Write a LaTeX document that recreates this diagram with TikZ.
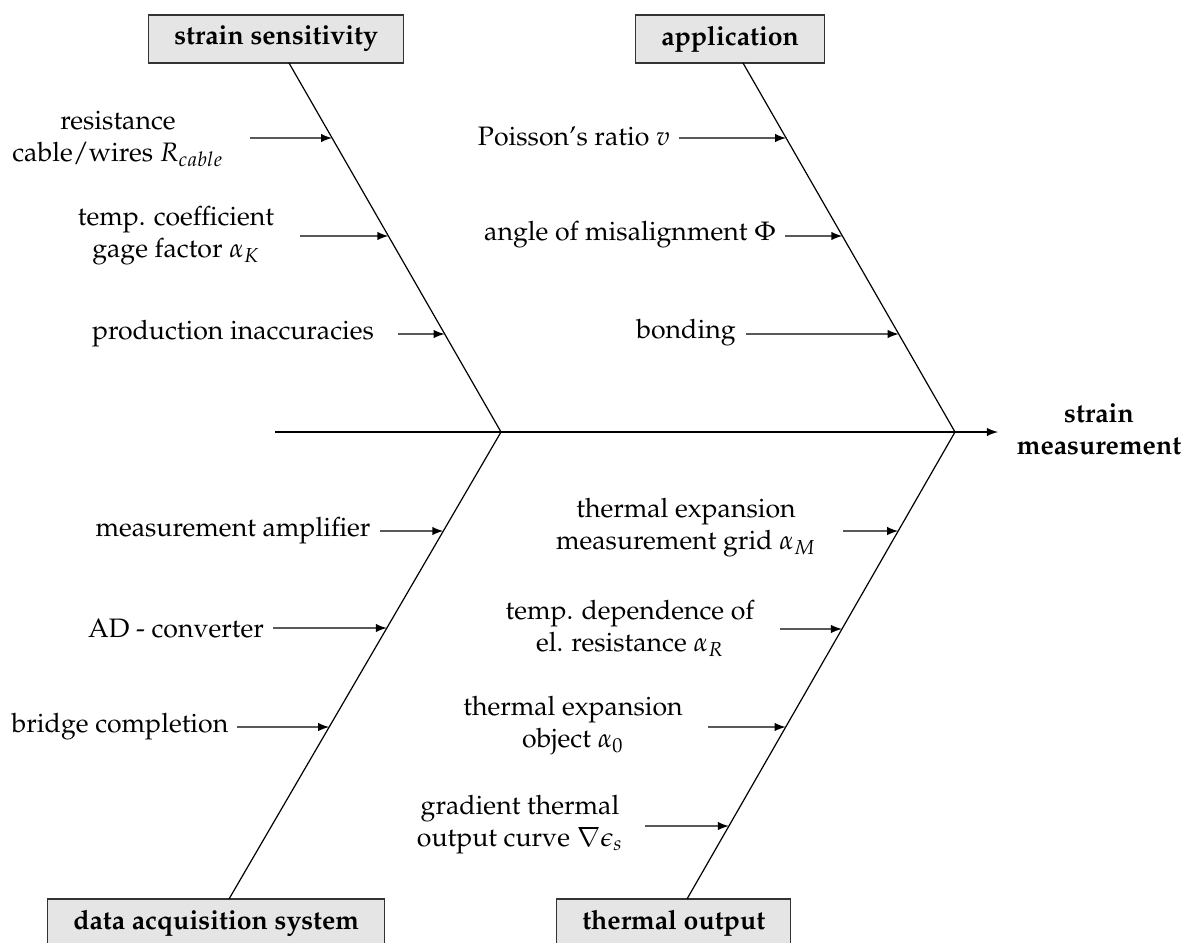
\documentclass[tikz,border=0pt]{standalone}
\usepackage[T1]{fontenc}
\usepackage{mathpazo}
\usetikzlibrary{calc}
\begin{document}
\begin{tikzpicture}[x=0.375pt,y=-0.375pt,
  cat/.style={draw=black!80,fill=gray!20,line width=0.5pt,font=\bfseries,
    minimum height=18pt,inner xsep=9.6pt,anchor=west},
  lbl/.style={align=center,inner sep=0pt},
  bone/.style={line width=0.45pt},
  cause/.style={line width=0.45pt,-latex}]
\useasboundingbox (0,0) rectangle (1196,942);
% category boxes
\node[cat] (ss)  at (148,39)  {strain sensitivity};
\node[cat] (app) at (635,39)  {application};
\node[cat] (daq) at (47,923)  {data acquisition system};
\node[cat] (to)  at (556,923) {thermal output};
% effect
\node[lbl,font=\bfseries] (eff) at (1099,429) {strain\\measurement};
% spine
\coordinate (S)  at (275,432);
\coordinate (J1) at (501,432);
\coordinate (J2) at (955,432);
\coordinate (E)  at (998,432);
\coordinate (t1) at (289,63);
\coordinate (t2) at (743,63);
\coordinate (b1) at (229,899);
\coordinate (b2) at (687,899);
\draw[bone] (S) -- (J1) -- (J2);
\draw[cause] (J2) -- (E);
\draw[bone] (t1) -- (J1) -- (b1);
\draw[bone] (t2) -- (J2) -- (b2);
% labels
\node[lbl] (l1) at (118,139) {resistance\\cable/wires $R_{cable}$};
\node[lbl] (l2) at (176,236) {temp. coefficient\\gage factor $\alpha_K$};
\node[lbl] (l3) at (233,334) {production inaccuracies};
\node[lbl] (l4) at (574,137) {Poisson's ratio $v$};
\node[lbl] (l5) at (630,235) {angle of misalignment $\Phi$};
\node[lbl] (l6) at (686,333) {bonding};
\node[lbl] (l7) at (233,531) {measurement amplifier};
\node[lbl] (l8) at (176,629) {AD - converter};
\node[lbl] (l9) at (120,727) {bridge completion};
\node[lbl] (l10) at (686,528) {thermal expansion\\measurement grid $\alpha_M$};
\node[lbl] (l11) at (630,628) {temp. dependence of\\el. resistance $\alpha_R$};
\node[lbl] (l12) at (573,726) {thermal expansion\\object $\alpha_0$};
\node[lbl] (l13) at (520,825) {gradient thermal\\output curve $\nabla\epsilon_s$};
% arrow starts
\coordinate (a1) at (250,138);
\coordinate (a2) at (300,236);
\coordinate (a3) at (398,334);
\coordinate (a4) at (679,138);
\coordinate (a5) at (785,236);
\coordinate (a6) at (746,334);
\coordinate (a7) at (380,531);
\coordinate (a8) at (273,628);
\coordinate (a9) at (237,727);
\coordinate (a10) at (843,531);
\coordinate (a11) at (780,629);
\coordinate (a12) at (708,727);
\coordinate (a13) at (645,826);
% arrow tips on bones
\coordinate (p1) at ($(t1)!0.2033!(J1)$);
\coordinate (p2) at ($(t1)!0.4688!(J1)$);
\coordinate (p3) at ($(t1)!0.7344!(J1)$);
\coordinate (p4) at ($(t2)!0.2033!(J2)$);
\coordinate (p5) at ($(t2)!0.4688!(J2)$);
\coordinate (p6) at ($(t2)!0.7344!(J2)$);
\coordinate (p7) at ($(J1)!0.2120!(b1)$);
\coordinate (p8) at ($(J1)!0.4197!(b1)$);
\coordinate (p9) at ($(J1)!0.6317!(b1)$);
\coordinate (p10) at ($(J2)!0.2120!(b2)$);
\coordinate (p11) at ($(J2)!0.4218!(b2)$);
\coordinate (p12) at ($(J2)!0.6317!(b2)$);
\coordinate (p13) at ($(J2)!0.8437!(b2)$);
\foreach \i in {1,...,13} {\draw[cause] (a\i) -- (p\i);}
\end{tikzpicture}
\end{document}
